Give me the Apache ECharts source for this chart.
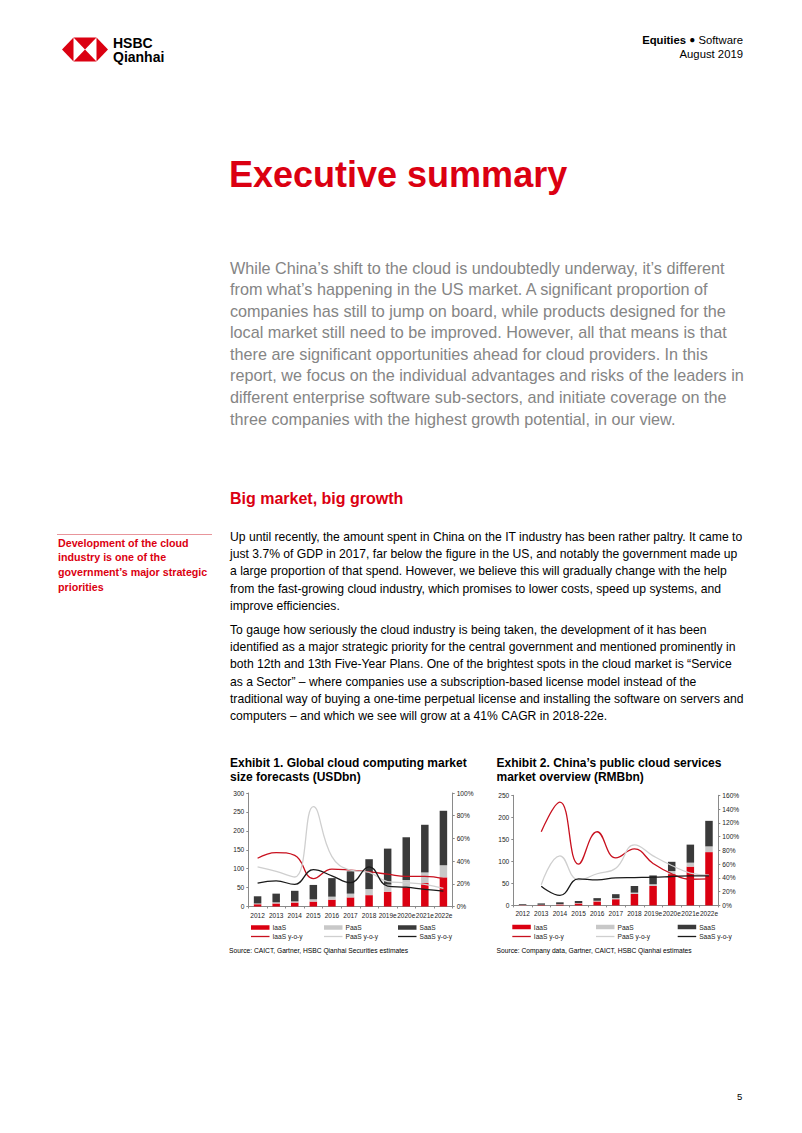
<!DOCTYPE html>
<html>
<head>
<meta charset="utf-8">
<script src="https://cdn.jsdelivr.net/npm/echarts@6/dist/echarts.min.js"></script>
<style>
  html, body { margin:0; padding:0; background:#fff; }
  body { width:802px; height:1133px; position:relative; overflow:hidden;
         font-family:"Liberation Sans", Arial, Helvetica, sans-serif; color:#000; }
  .abs { position:absolute; white-space:nowrap; }
  .red { color:#db0011; }
</style>
</head>
<body>
<script>
// ---------- DATA ----------
const years = ['2012','2013','2014','2015','2016','2017','2018','2019e','2020e','2021e','2022e'];

// Exhibit 1: Global cloud computing market (USDbn) and y-o-y growth (%)
const globalIaaS = [6, 8, 10.5, 13, 18, 24, 30, 39, 51, 62, 77];
const globalPaaS = [2, 3, 3, 6, 8, 10, 16, 19, 19, 28, 32];
const globalSaaS = [19, 23, 28, 38, 49, 59, 79, 95, 113, 126, 144];
const globalIaaSYoy = [42.5, 47.5, 45, 24.5, 33, 32, 30.5, 28.5, 26.5, 26.5, 24.5];
const globalPaaSYoy = [35, 31, 26, 88, 44, 32, 30, 22, 21, 19.5, 16];
const globalSaaSYoy = [20.5, 22.5, 19.5, 32.5, 27, 21, 35, 18, 17, 15, 13.5];
const leftTicks1 = { min: 0, max: 300, interval: 50 };
const rightTicks1 = { min: 0, max: 100, interval: 20 };

// Exhibit 2: China public cloud services market (RMBbn) and y-o-y growth (%)
const chinaIaaS = [0.5, 1, 2, 4.5, 9, 14, 26, 44, 71, 88, 121];
const chinaPaaS = [0.3, 0.5, 1, 1, 1.5, 2.5, 3, 4, 7, 9, 13];
const chinaSaaS = [2, 3, 4, 4.5, 6, 9, 15, 20, 21, 41, 58];
const chinaIaaSYoy = [null, 107, 150, 60, 107, 69, 82, 61, 46, 38, 38.5];
const chinaPaaSYoy = [null, 30, 72, 37, 46, 54, 88, 72, 58, 47, 44];
const chinaSaaSYoy = [null, 28, 14.5, 38.5, 37, 40, 40.5, 41, 42, 43, 43];
const leftTicks2 = { min: 0, max: 250, interval: 50 };
const rightTicks2 = { min: 0, max: 160, interval: 20 };
</script>

<!-- Header -->
<svg class="abs" style="left:0;top:0" width="120" height="70">
  <polygon points="62,49.5 73.5,37.5 73.5,61.5" fill="#db0011"/>
  <polygon points="108,49.5 96.5,37.5 96.5,61.5" fill="#db0011"/>
  <polygon points="73.5,37.5 96.5,37.5 85,49.5" fill="#db0011"/>
  <polygon points="73.5,61.5 96.5,61.5 85,49.5" fill="#db0011"/>
</svg>
<div class="abs" style="left:113px;top:36.5px;font-size:14px;line-height:13px;font-weight:bold;">HSBC</div>
<div class="abs" style="left:113px;top:50.5px;font-size:14px;line-height:13px;font-weight:bold;">Qianhai</div>
<div class="abs" style="right:59px;top:34px;font-size:11.3px;line-height:13.6px;text-align:right;">
  <b>Equities</b> <span style="font-size:10px;position:relative;top:-1px">●</span> Software<br>August 2019
</div>

<!-- Title -->
<div class="abs red" style="left:229px;top:155px;font-size:36px;line-height:40px;font-weight:bold;">Executive summary</div>

<div class="abs" style="left:230px;top:257.5px;font-size:16.2px;line-height:21.6px;color:#858585;">
While China’s shift to the cloud is undoubtedly underway, it’s different<br>
from what’s happening in the US market. A significant proportion of<br>
companies has still to jump on board, while products designed for the<br>
local market still need to be improved. However, all that means is that<br>
there are significant opportunities ahead for cloud providers. In this<br>
report, we focus on the individual advantages and risks of the leaders in<br>
different enterprise software sub-sectors, and initiate coverage on the<br>
three companies with the highest growth potential, in our view.
</div>

<div class="abs red" style="left:230px;top:489px;font-size:16px;line-height:20px;font-weight:bold;">Big market, big growth</div>

<!-- Sidebar -->
<div class="abs" style="left:57px;top:534px;width:155px;height:1px;background:#e8959b;"></div>
<div class="abs red" style="left:58px;top:535.5px;font-size:10.7px;line-height:14.7px;font-weight:bold;">
Development of the cloud<br>industry is one of the<br>government’s major strategic<br>priorities
</div>

<!-- Body -->
<div class="abs" style="left:230px;top:529px;font-size:12.15px;line-height:17.2px;">
Up until recently, the amount spent in China on the IT industry has been rather paltry. It came to<br>
just 3.7% of GDP in 2017, far below the figure in the US, and notably the government made up<br>
a large proportion of that spend. However, we believe this will gradually change with the help<br>
from the fast-growing cloud industry, which promises to lower costs, speed up systems, and<br>
improve efficiencies.
</div>
<div class="abs" style="left:230px;top:622px;font-size:12.15px;line-height:17.2px;">
To gauge how seriously the cloud industry is being taken, the development of it has been<br>
identified as a major strategic priority for the central government and mentioned prominently in<br>
both 12th and 13th Five-Year Plans. One of the brightest spots in the cloud market is “Service<br>
as a Sector” – where companies use a subscription-based license model instead of the<br>
traditional way of buying a one-time perpetual license and installing the software on servers and<br>
computers – and which we see will grow at a 41% CAGR in 2018-22e.
</div>

<!-- Exhibit titles -->
<div class="abs" style="left:230px;top:756px;font-size:12px;line-height:14px;font-weight:bold;">Exhibit 1. Global cloud computing market<br>size forecasts (USDbn)</div>
<div class="abs" style="left:496.5px;top:756px;font-size:12px;line-height:14px;font-weight:bold;">Exhibit 2. China’s public cloud services<br>market overview (RMBbn)</div>

<!-- Charts -->
<div id="c1" class="abs" style="left:225px;top:785px;width:262px;height:160px;"></div>
<div id="c2" class="abs" style="left:490px;top:785px;width:262px;height:160px;"></div>

<div class="abs" style="left:229px;top:946.5px;font-size:6.7px;line-height:8px;">Source: CAICT, Gartner, HSBC Qianhai Securities estimates</div>
<div class="abs" style="left:496.5px;top:946.5px;font-size:6.7px;line-height:8px;">Source: Company data, Gartner, CAICT, HSBC Qianhai estimates</div>

<div class="abs" style="left:737px;top:1091px;font-size:9.5px;line-height:12px;">5</div>

<script>
const FONT = '"Liberation Sans", Arial, sans-serif';
const AX = '#8a8a8a';
const C_IAAS = '#db0011', C_PAAS = '#c8c8c8', C_SAAS = '#3a3a3a';
const C_IAAS_L = '#c8101e', C_PAAS_L = '#cfcfcf', C_SAAS_L = '#1a1a1a';

function legendItem(name, left, top, isBar) {
  return {
    left: left, top: top, padding: 0, itemGap: 0, selectedMode: false,
    itemWidth: 18.5, itemHeight: isBar ? 4.5 : 1.3,
    textStyle: { fontSize: 6.6, color: '#222', fontFamily: FONT, padding: [0, 0, 0, -2] },
    data: [{ name: name, icon: 'rect' }]
  };
}

function buildOption(cfg) {
  const axisCommon = {
    axisLine: { show: true, lineStyle: { color: AX, width: 1 } },
    axisTick: { show: true, length: 2, lineStyle: { color: AX } },
    splitLine: { show: false },
    axisLabel: { fontSize: 6.6, color: '#222', fontFamily: FONT, margin: 4 }
  };
  const lineSeries = (name, data, color) => ({
    name: name, type: 'line', yAxisIndex: 1, data: data, smooth: 0.45,
    symbol: 'none', showSymbol: false, z: 5,
    lineStyle: { color: color, width: 1.3 }, itemStyle: { color: color }
  });
  const barSeries = (name, data, color) => ({
    name: name, type: 'bar', stack: 'total', data: data, barWidth: 7.5,
    itemStyle: { color: color }, z: 2
  });
  return {
    animation: false,
    textStyle: { fontFamily: FONT },
    grid: cfg.grid,
    xAxis: {
      type: 'category', data: years,
      axisLine: { show: true, lineStyle: { color: AX, width: 1 } },
      axisTick: { show: true, length: 2, lineStyle: { color: AX } },
      axisLabel: { fontSize: 6.5, color: '#222', fontFamily: FONT, margin: 5, interval: 0 }
    },
    yAxis: [
      Object.assign({ type: 'value', position: 'left' }, cfg.left, axisCommon),
      Object.assign({ type: 'value', position: 'right' }, cfg.right, axisCommon,
        { axisLabel: Object.assign({}, axisCommon.axisLabel, { formatter: '{value}%' }) })
    ],
    legend: [
      legendItem('IaaS', cfg.lx[0], cfg.ly[0], true),
      legendItem('PaaS', cfg.lx[1], cfg.ly[0], true),
      legendItem('SaaS', cfg.lx[2], cfg.ly[0], true),
      legendItem('IaaS y-o-y', cfg.lx[0], cfg.ly[1], false),
      legendItem('PaaS y-o-y', cfg.lx[1], cfg.ly[1], false),
      legendItem('SaaS y-o-y', cfg.lx[2], cfg.ly[1], false)
    ],
    series: [
      barSeries('IaaS', cfg.iaas, C_IAAS),
      barSeries('PaaS', cfg.paas, C_PAAS),
      barSeries('SaaS', cfg.saas, C_SAAS),
      lineSeries('IaaS y-o-y', cfg.iaasY, C_IAAS_L),
      lineSeries('PaaS y-o-y', cfg.paasY, C_PAAS_L),
      lineSeries('SaaS y-o-y', cfg.saasY, C_SAAS_L)
    ]
  };
}

const chart1 = echarts.init(document.getElementById('c1'), null, { renderer: 'svg' });
chart1.setOption(buildOption({
  grid: { left: 23.3, right: 34.3, top: 8, bottom: 38.5, containLabel: false },
  left: leftTicks1, right: rightTicks1,
  lx: [26, 99, 173], ly: [139, 148],
  iaas: globalIaaS, paas: globalPaaS, saas: globalSaaS,
  iaasY: globalIaaSYoy, paasY: globalPaaSYoy, saasY: globalSaaSYoy
}));

const chart2 = echarts.init(document.getElementById('c2'), null, { renderer: 'svg' });
chart2.setOption(buildOption({
  grid: { left: 23.3, right: 33.7, top: 10.3, bottom: 39.6, containLabel: false },
  left: leftTicks2, right: rightTicks2,
  lx: [22.3, 106, 187.7], ly: [138.5, 148],
  iaas: chinaIaaS, paas: chinaPaaS, saas: chinaSaaS,
  iaasY: chinaIaaSYoy, paasY: chinaPaaSYoy, saasY: chinaSaaSYoy
}));
</script>
</body>
</html>
